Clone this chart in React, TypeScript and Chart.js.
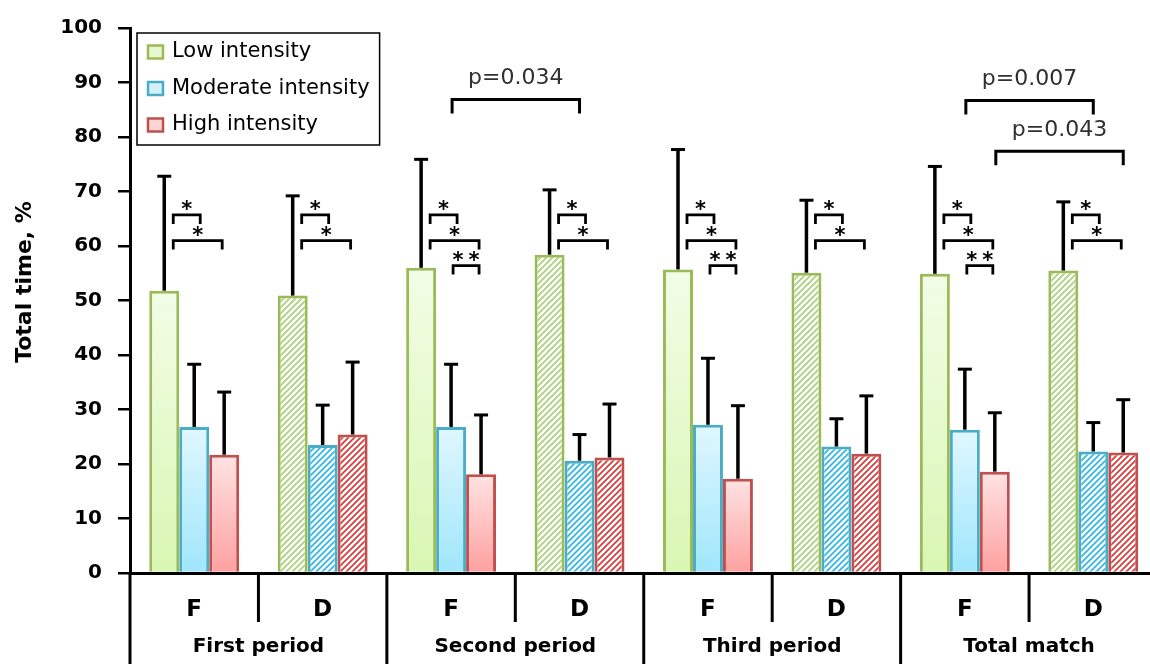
import { useEffect, useRef } from 'react';
import { Chart, registerables } from 'chart.js';

Chart.register(...registerables);

const FONT = '"DejaVu Sans", sans-serif';

// ---- data ----
const groups = ['F', 'D', 'F', 'D', 'F', 'D', 'F', 'D'];
const periods = ['First period', 'Second period', 'Third period', 'Total match'];
const seriesNames = ['Low intensity', 'Moderate intensity', 'High intensity'];

const lowMean = [51.8, 50.9, 56.0, 58.4, 55.7, 55.1, 54.9, 55.5];
const modMean = [26.8, 23.5, 26.8, 20.6, 27.2, 23.2, 26.3, 22.3];
const highMean = [21.7, 25.4, 18.1, 21.2, 17.3, 21.9, 18.6, 22.1];

const lowSD = [21.0, 18.3, 19.9, 11.9, 22.0, 13.3, 19.7, 12.6];
const modSD = [11.5, 7.3, 11.5, 4.8, 12.2, 5.1, 11.1, 5.3];
const highSD = [11.5, 13.3, 10.9, 9.8, 13.4, 10.6, 10.8, 9.7];

// within-group tests: [category, fromSeries, toSeries, bracket level (%), label]
const withinTests: [number, number, number, number, string][] = [
  [0, 0, 1, 65.7, '*'], [0, 0, 2, 61.0, '*'],
  [1, 0, 1, 65.7, '*'], [1, 0, 2, 61.0, '*'],
  [2, 0, 1, 65.7, '*'], [2, 0, 2, 61.0, '*'], [2, 1, 2, 56.4, '**'],
  [3, 0, 1, 65.7, '*'], [3, 0, 2, 61.0, '*'],
  [4, 0, 1, 65.7, '*'], [4, 0, 2, 61.0, '*'], [4, 1, 2, 56.4, '**'],
  [5, 0, 1, 65.7, '*'], [5, 0, 2, 61.0, '*'],
  [6, 0, 1, 65.7, '*'], [6, 0, 2, 61.0, '*'], [6, 1, 2, 56.4, '**'],
  [7, 0, 1, 65.7, '*'], [7, 0, 2, 61.0, '*'],
];

// between-group tests: [fromCategory, toCategory, series, bracket level (%), label]
const betweenTests: [number, number, number, number, string][] = [
  [2, 3, 1, 86.9, 'p=0.034'],
  [6, 7, 1, 86.7, 'p=0.007'],
  [6, 7, 2, 77.4, 'p=0.043'],
];

const means = [lowMean, modMean, highMean];
const sds = [lowSD, modSD, highSD];

// ---- styles ----
const borderColors = ['#9bbb59', '#4bacc6', '#c0504d'];
const gradTop = ['#f2fde6', '#e0f7ff', '#ffe3e3'];
const gradBottom = ['#d9f6b2', '#9fe6fb', '#ffa0a0'];
const hatchColors = ['#a9d27c', '#2fb6e8', '#d83a3a'];
const legendFill = ['#e6f6cf', '#d2f1fb', '#fcd6d6'];

export default function App() {
  const ref = useRef<HTMLCanvasElement>(null);

  useEffect(() => {
    const canvas = ref.current;
    if (!canvas) return;
    const patterns: Record<number, CanvasPattern | null> = {};

    const getPattern = (ctx: CanvasRenderingContext2D, si: number) => {
      if (patterns[si]) return patterns[si];
      const s = 6;
      const c = document.createElement('canvas');
      c.width = s;
      c.height = s;
      const p = c.getContext('2d')!;
      p.fillStyle = '#ffffff';
      p.fillRect(0, 0, s, s);
      p.strokeStyle = hatchColors[si];
      p.lineWidth = 1.7;
      p.beginPath();
      p.moveTo(0, s); p.lineTo(s, 0);
      p.moveTo(-s / 2, s / 2); p.lineTo(s / 2, -s / 2);
      p.moveTo(s / 2, s * 1.5); p.lineTo(s * 1.5, s / 2);
      p.stroke();
      patterns[si] = ctx.createPattern(c, 'repeat');
      return patterns[si];
    };

    const fillFor = (si: number) => (c: any) => {
      if (c.type !== 'data') return gradTop[si];
      const chart = c.chart;
      const y = chart.scales && chart.scales.y;
      if (!y) return gradTop[si];
      if (groups[c.dataIndex] === 'D') return getPattern(chart.ctx, si);
      const top = y.getPixelForValue(c.raw);
      const bottom = y.getPixelForValue(0);
      if (!isFinite(top) || !isFinite(bottom) || top === bottom) return gradTop[si];
      const g = chart.ctx.createLinearGradient(0, top, 0, bottom);
      g.addColorStop(0, gradTop[si]);
      g.addColorStop(1, gradBottom[si]);
      return g;
    };

    const line = (ctx: CanvasRenderingContext2D, x1: number, y1: number, x2: number, y2: number) => {
      ctx.beginPath();
      ctx.moveTo(x1, y1);
      ctx.lineTo(x2, y2);
      ctx.stroke();
    };

    const bracket = (ctx: CanvasRenderingContext2D, x1: number, x2: number, yy: number, leg: number) => {
      ctx.beginPath();
      ctx.moveTo(x1, yy + leg);
      ctx.lineTo(x1, yy);
      ctx.lineTo(x2, yy);
      ctx.lineTo(x2, yy + leg);
      ctx.stroke();
    };

    const annot = {
      id: 'annot',
      afterDatasetsDraw(chart: any) {
        const ctx: CanvasRenderingContext2D = chart.ctx;
        const y = chart.scales.y;
        const barX = (si: number, i: number) => chart.getDatasetMeta(si).data[i].x;
        ctx.save();
        ctx.strokeStyle = '#000';
        ctx.fillStyle = '#000';
        ctx.lineCap = 'butt';
        ctx.lineJoin = 'miter';

        // error bars (upper)
        sds.forEach((sd, si) => {
          const meta = chart.getDatasetMeta(si);
          meta.data.forEach((el: any, i: number) => {
            const ey = y.getPixelForValue(means[si][i] + sd[i]);
            ctx.lineWidth = 3.5;
            line(ctx, el.x, el.y, el.x, ey);
            ctx.lineWidth = 3;
            line(ctx, el.x - 7, ey, el.x + 7, ey);
          });
        });

        // within-group significance brackets
        ctx.lineWidth = 2.8;
        ctx.font = `bold 21px ${FONT}`;
        ctx.textAlign = 'center';
        ctx.textBaseline = 'alphabetic';
        withinTests.forEach(([cat, from, to, level, label]) => {
          const x1 = barX(from, cat) + (from === 0 ? 9 : 2);
          const x2 = barX(to, cat) + (to === 1 ? 6 : -2);
          const yy = y.getPixelForValue(level);
          bracket(ctx, x1, x2, yy, 9);
          const cx = (x1 + x2) / 2;
          const n = label.length;
          for (let k = 0; k < n; k++) {
            ctx.fillText(label[k], cx + (k - (n - 1) / 2) * 16, yy + 1);
          }
        });

        // between-group brackets with p-values
        ctx.lineWidth = 3;
        ctx.font = `22px ${FONT}`;
        betweenTests.forEach(([c1, c2, si, level, label]) => {
          const x1 = barX(si, c1) + 1;
          const x2 = barX(si, c2);
          const yy = y.getPixelForValue(level);
          bracket(ctx, x1, x2, yy, 14);
          ctx.fillStyle = '#303030';
          ctx.fillText(label, (x1 + x2) / 2, yy - 15);
        });
        ctx.restore();
      },
      afterDraw(chart: any) {
        const ctx: CanvasRenderingContext2D = chart.ctx;
        const x = chart.scales.x;
        const area = chart.chartArea;
        const H = chart.height;
        ctx.save();
        ctx.strokeStyle = '#000';
        ctx.fillStyle = '#000';

        // category boundaries below the axis
        const half = (x.getPixelForValue(1) - x.getPixelForValue(0)) / 2;
        ctx.lineWidth = 3;
        line(ctx, area.left, area.bottom, area.left, H);
        for (let k = 1; k < groups.length; k++) {
          const bx = x.getPixelForValue(k) - half;
          line(ctx, bx, area.bottom, bx, k % 2 === 0 ? H : area.bottom + 49);
        }

        // period labels
        ctx.font = `bold 20px ${FONT}`;
        ctx.textAlign = 'center';
        ctx.textBaseline = 'alphabetic';
        periods.forEach((p, i) => {
          const cx = (x.getPixelForValue(2 * i) + x.getPixelForValue(2 * i + 1)) / 2;
          ctx.fillText(p, cx, 652);
        });

        // y title
        ctx.save();
        ctx.translate(25, 282);
        ctx.rotate(-Math.PI / 2);
        ctx.font = `bold 22px ${FONT}`;
        ctx.textBaseline = 'middle';
        ctx.fillText('Total time, %', 0, 0);
        ctx.restore();

        // legend
        ctx.font = `21px ${FONT}`;
        const maxW = Math.max(...seriesNames.map((s) => ctx.measureText(s).width));
        const lx = area.left + 7;
        const ly = 33;
        const lw = 10 + 16 + 9 + maxW + 10;
        const lh = 112;
        ctx.fillStyle = '#fff';
        ctx.fillRect(lx, ly, lw, lh);
        ctx.lineWidth = 1.5;
        ctx.strokeStyle = '#000';
        ctx.strokeRect(lx, ly, lw, lh);
        seriesNames.forEach((name, i) => {
          const cy = ly + 19 + i * 36.5;
          ctx.fillStyle = legendFill[i];
          ctx.fillRect(lx + 11, cy - 6.5, 15, 13);
          ctx.strokeStyle = borderColors[i];
          ctx.lineWidth = 2.5;
          ctx.strokeRect(lx + 11, cy - 6.5, 15, 13);
          ctx.fillStyle = '#000';
          ctx.textAlign = 'left';
          ctx.textBaseline = 'middle';
          ctx.fillText(name, lx + 35, cy);
        });
        ctx.restore();
      },
    };

    const chart = new Chart(canvas, {
      type: 'bar',
      data: {
        labels: groups,
        datasets: seriesNames.map((name, si) => ({
          label: name,
          data: means[si],
          backgroundColor: fillFor(si),
          borderColor: borderColors[si],
          borderWidth: 3,
          borderSkipped: 'bottom',
          categoryPercentage: 0.7,
          barPercentage: 1.0,
        })),
      },
      options: {
        responsive: false,
        animation: false,
        devicePixelRatio: 1,
        layout: { padding: { top: 24, right: 12.5, left: 0, bottom: 0 } },
        plugins: {
          legend: { display: false },
          tooltip: { enabled: false },
        },
        scales: {
          x: {
            grid: { display: false },
            border: { display: true, color: '#000', width: 3 },
            ticks: {
              color: '#000',
              font: { family: FONT, size: 23, weight: 'bold' },
              padding: 15,
              maxRotation: 0,
              autoSkip: false,
            },
            afterFit: (s: any) => { s.height = 91; },
          },
          y: {
            min: 0,
            max: 100,
            ticks: {
              stepSize: 10,
              color: '#000',
              font: { family: FONT, size: 20, weight: 'bold' },
              padding: 16,
            },
            grid: { drawOnChartArea: false, drawTicks: true, tickLength: 12, color: '#000', lineWidth: 2.5 },
            border: { display: true, color: '#000', width: 3 },
            afterFit: (s: any) => { s.width = 130; },
          },
        },
      },
      plugins: [annot],
    } as any);

    return () => chart.destroy();
  }, []);

  return (
    <div style={{ position: 'fixed', left: 0, top: 0, width: 1150, height: 664, overflow: 'hidden', background: '#fff' }}>
      <canvas ref={ref} width={1170} height={664} style={{ display: 'block' }} />
    </div>
  );
}
